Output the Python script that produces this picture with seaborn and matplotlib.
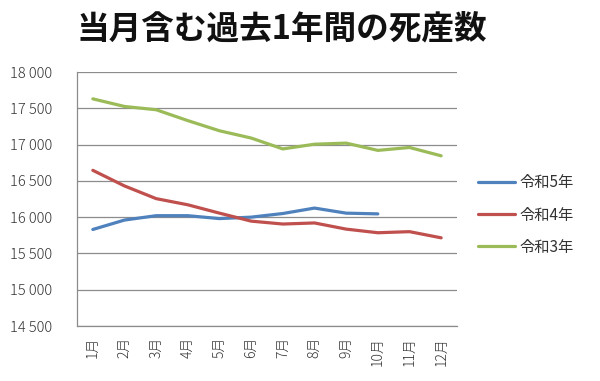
import pandas as pd
import matplotlib.pyplot as plt
import matplotlib.ticker as mticker
import seaborn as sns

months = ['1月', '2月', '3月', '4月', '5月', '6月', '7月', '8月', '9月', '10月', '11月', '12月']
r5 = [15830, 15960, 16020, 16020, 15980, 16000, 16050, 16125, 16055, 16045]
r4 = [16645, 16430, 16255, 16170, 16055, 15945, 15905, 15920, 15835, 15785, 15800, 15715]
r3 = [17630, 17525, 17480, 17330, 17190, 17090, 16940, 17005, 17020, 16920, 16960, 16845]
series_names = ['令和5年', '令和4年', '令和3年']
colors = ['#4F81BD', '#C0504D', '#9BBB59']

rows = []
for name, vals in zip(series_names, [r5, r4, r3]):
    for m, v in zip(months, vals):
        rows.append({'month': m, 'value': v, 'series': name})
df = pd.DataFrame(rows)

sns.set_style('white')
plt.rcParams['font.family'] = ['Noto Sans CJK JP', 'DejaVu Sans']

fig = plt.figure(figsize=(6, 3.81), dpi=100)
ax = fig.add_axes([77 / 600, 1 - 326 / 381, 380 / 600, 254 / 381])

sns.lineplot(data=df, x='month', y='value', hue='series', palette=colors,
             linewidth=2.3, sort=False, ax=ax)

ax.set_xlim(-0.5, 11.5)
ax.set_ylim(14500, 18000)
ax.yaxis.set_major_locator(mticker.MultipleLocator(500))
ax.yaxis.set_major_formatter(mticker.FuncFormatter(lambda v, p: f'{int(v):,}'.replace(',', ' ')))
ax.grid(axis='y', color='#8c8c8c', linewidth=0.9)
ax.set_axisbelow(True)
for s in ['top', 'right']:
    ax.spines[s].set_visible(False)
for s in ['left', 'bottom']:
    ax.spines[s].set_color('#8c8c8c')
    ax.spines[s].set_linewidth(0.9)
ax.tick_params(axis='y', length=0, pad=18, labelsize=10.5, labelcolor='#333333')
ax.tick_params(axis='x', length=0, pad=8, labelsize=10, labelcolor='#333333', rotation=90)
for lbl in ax.get_xticklabels() + ax.get_yticklabels():
    lbl.set_fontweight('light')
ax.set_xlabel('')
ax.set_ylabel('')

leg = ax.legend(loc='center left', bbox_to_anchor=(1.02, 0.437), frameon=False,
                fontsize=11, handlelength=2.4, labelspacing=1.0, handletextpad=0.3)
for h in leg.get_lines():
    h.set_linewidth(2.3)
for t in leg.get_texts():
    t.set_color('#333333')

fig.text(0.47, 0.925, '当月含む過去1年間の死産数', ha='center', va='center',
         fontsize=23.5, fontweight='bold', color='#111111')

fig.savefig('out.png', dpi=100)
